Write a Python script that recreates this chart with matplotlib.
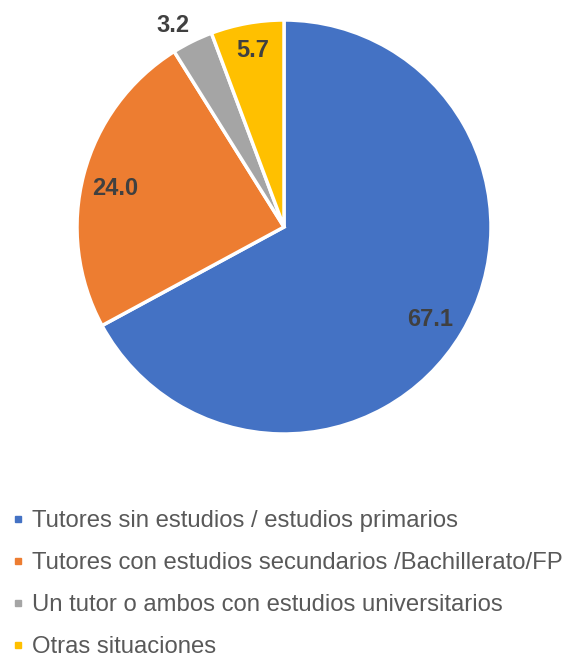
import numpy as np
import matplotlib.pyplot as plt
from matplotlib.lines import Line2D

plt.rcParams['font.family'] = ['Liberation Sans', 'DejaVu Sans']

categories = ['Tutores sin estudios / estudios primarios',
              'Tutores con estudios secundarios /Bachillerato/FP',
              'Un tutor o ambos con estudios universitarios',
              'Otras situaciones']
values = [67.1, 24.0, 3.2, 5.7]
colors = ['#4472C4', '#ED7D31', '#A5A5A5', '#FFC000']

fig = plt.figure(figsize=(5.68, 6.57), dpi=100)
ax = fig.add_axes([77 / 568, (657 - 434) / 657, 414 / 568, 414 / 657])

wedges, _ = ax.pie(values, colors=colors, startangle=90, counterclock=False,
                   wedgeprops=dict(edgecolor='white', linewidth=2.5))
ax.set_xlim(-1, 1)
ax.set_ylim(-1, 1)
ax.set_aspect('equal')

# label placement (angle offset from wedge middle, radius)
label_pos = [(-0.9, 0.83), (1.2, 0.84), (2.2, 1.12), (-0.4, 0.875)]
for w, v, (da, r) in zip(wedges, values, label_pos):
    mid = np.deg2rad((w.theta1 + w.theta2) / 2 + da)
    ax.text(r * np.cos(mid), r * np.sin(mid) - 0.01, f'{v:.1f}', ha='center', va='center',
            fontsize=17, fontweight='bold', color='#404040', clip_on=False)

handles = [Line2D([0], [0], marker='s', linestyle='', markersize=5,
                  markerfacecolor=c, markeredgecolor=c) for c in colors]
fig.legend(handles, categories, loc='upper left',
           bbox_to_anchor=(11 / 568, (657 - 510) / 657),
           frameon=False, fontsize=17.2, labelcolor='#595959',
           handlelength=0.6, handletextpad=0.27, labelspacing=0.84,
           borderaxespad=0, borderpad=0)

fig.savefig('out.png', dpi=100)
